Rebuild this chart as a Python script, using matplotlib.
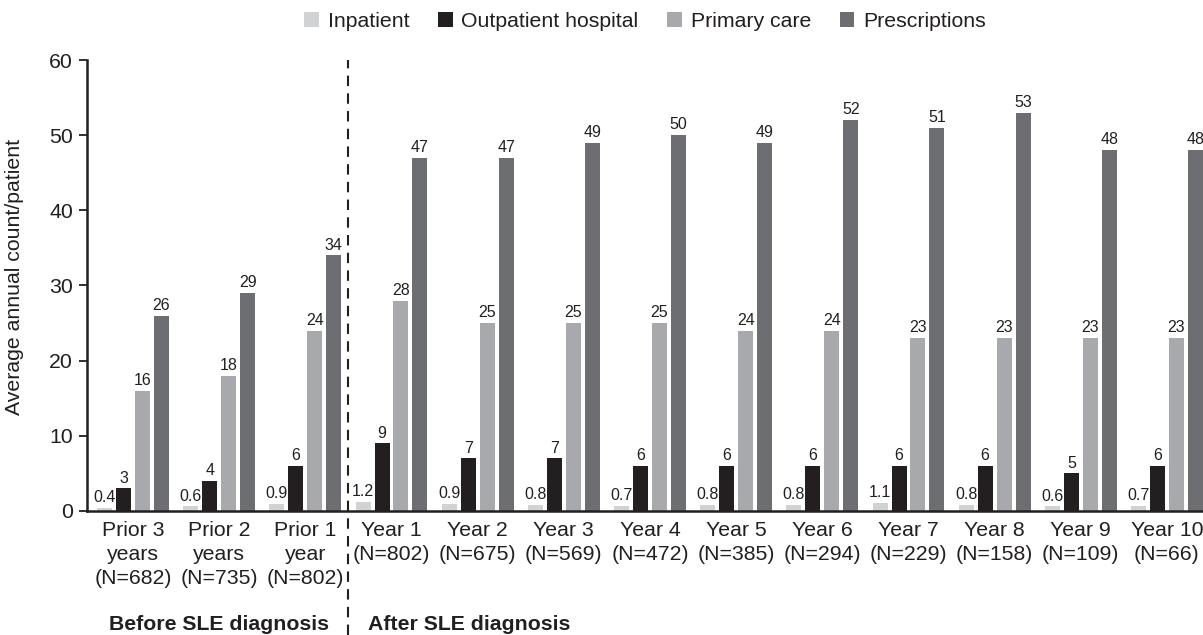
import numpy as np
import matplotlib
matplotlib.use("Agg")
import matplotlib.pyplot as plt
import matplotlib.transforms as mtransforms

plt.rcParams['font.family'] = ['Liberation Sans', 'DejaVu Sans']

categories = ['Prior 3\nyears\n(N=682)', 'Prior 2\nyears\n(N=735)', 'Prior 1\nyear\n(N=802)',
              'Year 1\n(N=802)', 'Year 2\n(N=675)', 'Year 3\n(N=569)', 'Year 4\n(N=472)',
              'Year 5\n(N=385)', 'Year 6\n(N=294)', 'Year 7\n(N=229)', 'Year 8\n(N=158)',
              'Year 9\n(N=109)', 'Year 10\n(N=66)']

inpatient = [0.4, 0.6, 0.9, 1.2, 0.9, 0.8, 0.7, 0.8, 0.8, 1.1, 0.8, 0.6, 0.7]
outpatient = [3, 4, 6, 9, 7, 7, 6, 6, 6, 6, 6, 5, 6]
primary = [16, 18, 24, 28, 25, 25, 25, 24, 24, 23, 23, 23, 23]
prescriptions = [26, 29, 34, 47, 47, 49, 50, 49, 52, 51, 53, 48, 48]

series = [('Inpatient', inpatient, '#d1d2d4'),
          ('Outpatient hospital', outpatient, '#231f20'),
          ('Primary care', primary, '#a7a9ac'),
          ('Prescriptions', prescriptions, '#6d6e71')]

fs = 15.3
fig = plt.figure(figsize=(12.03, 6.35), dpi=100)
ax = fig.add_axes([0.0723, 0.1953, 0.9277, 0.7102])

x = np.arange(len(categories))
step = 0.22
width = 0.174
txtc = '#231f20'

for i, (name, vals, col) in enumerate(series):
    off = (i - 1.5) * step
    ax.bar(x + off, vals, width, color=col, label=name, clip_on=False)
    for xi, v in zip(x + off, vals):
        ax.annotate('%g' % v, (xi, v), xytext=(0, 2), textcoords='offset points',
                    ha='center', va='bottom', fontsize=11.5, color=txtc)

ax.set_xlim(-0.534, 12.418)
ax.set_ylim(0, 60)
ax.set_yticks([0, 10, 20, 30, 40, 50, 60])
ax.set_xticks(x)
ax.set_xticklabels(categories, fontsize=fs, color=txtc, linespacing=1.35)
ax.tick_params(axis='x', length=0, pad=7)
ax.tick_params(axis='y', length=6, width=1.3, labelsize=fs, colors=txtc, pad=4)

for s in ['top', 'right']:
    ax.spines[s].set_visible(False)
for s in ['left', 'bottom']:
    ax.spines[s].set_linewidth(1.8)
    ax.spines[s].set_color(txtc)

ax.set_ylabel('Average annual count/patient', fontsize=fs, color=txtc)
ax.yaxis.set_label_coords(-0.056, 0.52)

# divider between before / after diagnosis
ax.axvline(2.5, ymin=-0.275, ymax=1.0, color=txtc, linestyle=(0, (5, 3.5)),
           linewidth=1.5, clip_on=False)

trans = mtransforms.blended_transform_factory(ax.transData, fig.transFigure)
fig.text(1.0, 0.016, 'Before SLE diagnosis', transform=trans, ha='center', va='center',
         fontsize=fs, fontweight='bold', color=txtc)
fig.text(2.726, 0.016, 'After SLE diagnosis', transform=trans, ha='left', va='center',
         fontsize=fs, fontweight='bold', color=txtc)

ax.legend(loc='center', bbox_to_anchor=(0.5, 1.085), ncol=4, frameon=False,
          fontsize=fs, handlelength=0.7, handleheight=0.7,
          handletextpad=0.4, columnspacing=1.35, labelcolor=txtc)

fig.savefig('out.png', dpi=100)
